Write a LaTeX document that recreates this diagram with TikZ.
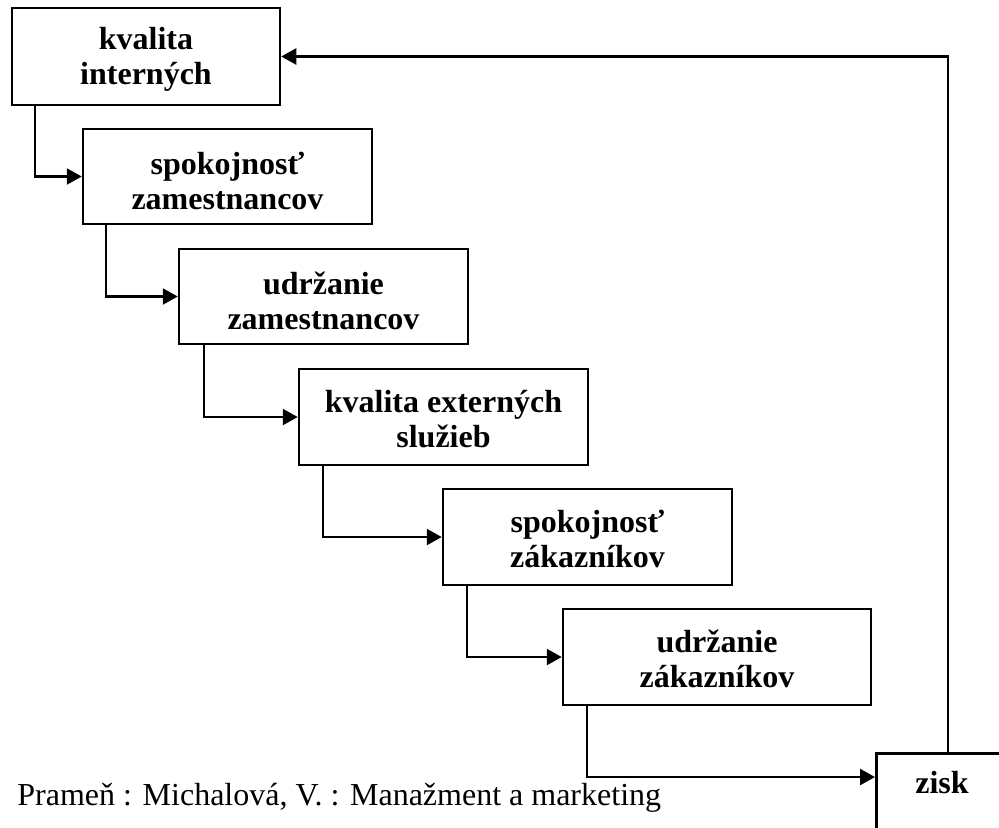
\documentclass[tikz,border=0pt]{standalone}
\usepackage{fontspec}
\setmainfont{Liberation Serif}
\usetikzlibrary{arrows.meta}
\begin{document}
\begin{tikzpicture}[x=0.5pt,y=-0.5pt,
  box/.style={draw,line width=1.25pt,inner sep=0pt},
  conn/.style={line width=1.15pt,-{Triangle[length=7.5pt,width=8pt]}},
  lbl/.style={inner sep=0pt,align=center,font=\fontsize{16}{17.5}\selectfont\bfseries}]
\useasboundingbox (0,0) rectangle (999,827);
\node[box,minimum width=134pt,minimum height=48.5pt] (b1) at (146,56.5) {};
\node[box,minimum width=144.5pt,minimum height=47.5pt] (b2) at (227.5,176.5) {};
\node[box,minimum width=144.5pt,minimum height=47.5pt] (b3) at (323.5,296.5) {};
\node[box,minimum width=144.5pt,minimum height=48pt] (b4) at (443.5,417) {};
\node[box,minimum width=144.5pt,minimum height=48pt] (b5) at (587.5,537) {};
\node[box,minimum width=154pt,minimum height=48pt] (b6) at (717,657) {};
\node[lbl] (t1) at ([yshift=-1.5pt]b1.center) {kvalita\\interných};
\node[lbl] (t2) at ([yshift=-2pt]b2.center) {spokojnosť\\zamestnancov};
\node[lbl] (t3) at ([yshift=-2pt]b3.center) {udržanie\\zamestnancov};
\node[lbl] (t4) at ([yshift=-1pt]b4.center) {kvalita externých\\služieb};
\node[lbl] (t5) at ([yshift=-1pt]b5.center) {spokojnosť\\zákazníkov};
\node[lbl] (t6) at ([yshift=-1pt]b6.center) {udržanie\\zákazníkov};
\begin{scope}
\clip (0,0) rectangle (999,827);
\node[box,anchor=north west,minimum width=67pt,minimum height=75pt] (zisk) at (875,752) {};
\end{scope}
\node[lbl,anchor=base] (zisklbl) at (942,793) {zisk};
\draw[conn] ([xshift=12pt]b1.south west) |- (b2.west);
\draw[conn] ([xshift=12pt]b2.south west) |- (b3.west);
\draw[conn] ([xshift=13pt]b3.south west) |- (b4.west);
\draw[conn] ([xshift=12.5pt]b4.south west) |- (b5.west);
\draw[conn] ([xshift=12.5pt]b5.south west) |- (b6.west);
\draw[conn] ([xshift=12.5pt]b6.south west) |- ([yshift=-12.5pt]zisk.north west);
\draw[conn] ([xshift=36.5pt]zisk.north west) |- (b1.east);
\node[anchor=base west,inner sep=0pt,font=\fontsize{16}{19}\selectfont] (src) at (17,805) {Prameň : Michalová, V. : Manažment a marketing};
\end{tikzpicture}
\end{document}
